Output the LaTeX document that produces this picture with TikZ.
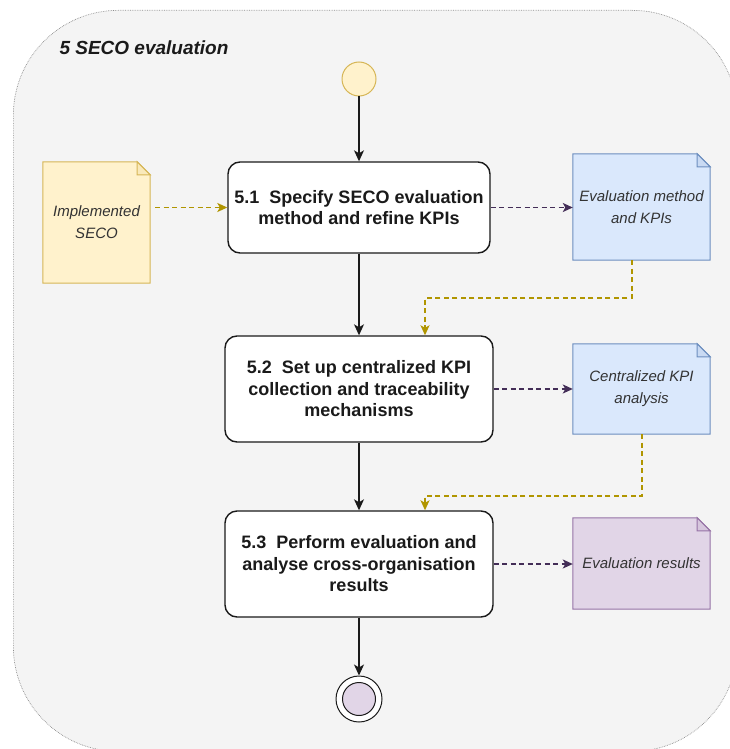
\documentclass[tikz,border=0pt]{standalone}
\usepackage{fontspec}
\setmainfont{Liberation Sans}
\usetikzlibrary{arrows.meta,calc}

\pgfdeclarelayer{back}
\pgfdeclarelayer{sheet}
\pgfsetlayers{back,sheet,main}

\definecolor{framefill}{HTML}{F4F4F4}
\definecolor{frameline}{HTML}{8C8C8C}
\definecolor{yelfill}{HTML}{FFF2CC}
\definecolor{yelline}{HTML}{D6B656}
\definecolor{bluefill}{HTML}{DAE8FC}
\definecolor{blueline}{HTML}{6C8EBF}
\definecolor{lilfill}{HTML}{E1D5E7}
\definecolor{lilline}{HTML}{9673A6}
\definecolor{goldline}{HTML}{B09500}
\definecolor{plumline}{HTML}{432D57}
\definecolor{inkdark}{HTML}{1A1A1A}
\definecolor{inkgrey}{HTML}{333333}

\tikzset{
  frame/.style={draw=frameline, line width=0.7pt, densely dotted, fill=framefill,
    rounded corners=105pt, inner sep=0pt},
  stepbox/.style={draw=inkdark, line width=1.4pt, fill=white, rounded corners=12pt,
    align=center, inner sep=0pt, text=inkdark,
    font=\bfseries\fontsize{18}{21.5}\selectfont},
  docnode/.style={rectangle, draw=none, inner sep=0pt, align=center, text=inkgrey,
    font=\itshape\fontsize{15}{22}\selectfont},
  flow/.style={draw=inkdark, line width=1.2pt,
    -{Stealth[length=11pt,width=10pt,inset=3pt]}},
  goldflow/.style={draw=goldline, line width=1.5pt, dash pattern=on 5pt off 3.5pt,
    -{Stealth[length=10pt,width=9pt,inset=2.5pt]}},
  plumflow/.style={draw=plumline, line width=1.5pt, dash pattern=on 5pt off 3.5pt,
    -{Stealth[length=10pt,width=9pt,inset=2.5pt]}},
}

% document sheet with a folded top-right corner, drawn behind a named node
\newcommand\docsheet[3]{%
  \path[fill=#2, draw=#3, line width=1pt, line join=miter]
    (#1.south west) -- (#1.north west) -- ([xshift=-13pt]#1.north east)
    -- ([yshift=-13pt]#1.north east) -- (#1.south east) -- cycle;
  \path[fill=#2!85!#3, draw=#3, line width=1pt, line join=miter]
    ([xshift=-13pt]#1.north east) -- ([xshift=-13pt,yshift=-13pt]#1.north east)
    -- ([yshift=-13pt]#1.north east) -- cycle;
}

\begin{document}
\begin{tikzpicture}[x=1pt, y=-1pt]
  \useasboundingbox (0,0) rectangle (730,749);

  % swimlane frame
  \begin{pgfonlayer}{back}
    \node[frame, anchor=north west, minimum width=724pt, minimum height=741pt]
      (lane) at (13,10) {};
  \end{pgfonlayer}
  \node[anchor=west, text=inkdark, font=\bfseries\itshape\fontsize{19}{22}\selectfont]
    (title) at (56,48) {5 SECO evaluation};

  % activity flow
  \node[circle, draw=yelline, fill=yelfill, line width=1pt, minimum size=34pt,
    inner sep=0pt] (start) at (359,79) {};
  \node[stepbox, minimum width=262pt, minimum height=91pt] (s51) at (359,207.5)
    {5.1~ Specify SECO evaluation\\method and refine KPIs};
  \node[stepbox, minimum width=268pt, minimum height=106pt] (s52) at (359,389)
    {5.2~ Set up centralized KPI\\collection and traceability\\mechanisms};
  \node[stepbox, minimum width=268pt, minimum height=106pt] (s53) at (359,564)
    {5.3~ Perform evaluation and\\analyse cross-organisation\\results};
  \node[circle, draw=inkdark, fill=white, line width=1pt, minimum size=46pt,
    inner sep=0pt] (final) at (359,699) {};
  \node[circle, draw=inkdark, fill=lilfill, line width=1pt, minimum size=33pt,
    inner sep=0pt] (finalcore) at (final.center) {};

  % artefacts
  \node[docnode, minimum width=107pt, minimum height=121pt] (impl) at (96.5,222.5)
    {Implemented\\SECO};
  \node[docnode, minimum width=137pt, minimum height=106pt] (evalm) at (641.5,207)
    {Evaluation method\\and KPIs};
  \node[docnode, minimum width=137pt, minimum height=90pt] (central) at (641.5,389)
    {Centralized KPI\\analysis};
  \node[docnode, minimum width=137pt, minimum height=91pt] (results) at (641.5,563.5)
    {Evaluation results};
  \begin{pgfonlayer}{sheet}
    \docsheet{impl}{yelfill}{yelline}
    \docsheet{evalm}{bluefill}{blueline}
    \docsheet{central}{bluefill}{blueline}
    \docsheet{results}{lilfill}{lilline}
  \end{pgfonlayer}

  % control flow
  \draw[flow] (start) -- (s51);
  \draw[flow] (s51) -- (s52);
  \draw[flow] (s52) -- (s53);
  \draw[flow] (s53) -- (final);

  % object flow
  \coordinate (bendA) at (425,298);
  \coordinate (bendB) at (425,496);
  \draw[goldflow] ([xshift=5pt]impl.east |- s51.west) -- (s51.west);
  \draw[plumflow] (s51.east) -- (evalm.west |- s51.east);
  \draw[goldflow] ([xshift=-9.5pt]evalm.south) |- (bendA) -- (bendA |- s52.north);
  \draw[plumflow] (s52.east) -- (central.west |- s52.east);
  \draw[goldflow] ([xshift=0.5pt]central.south) |- (bendB) -- (bendB |- s53.north);
  \draw[plumflow] (s53.east) -- (results.west |- s53.east);
\end{tikzpicture}
\end{document}
